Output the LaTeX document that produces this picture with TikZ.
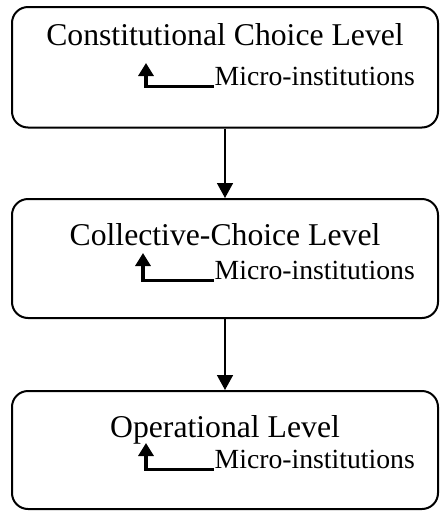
\documentclass[tikz,border=0pt]{standalone}
\usepackage{fontspec}
\setmainfont{Liberation Serif}
\usetikzlibrary{arrows.meta}
\begin{document}
\begin{tikzpicture}[x=1pt,y=-1pt,
  levelbox/.style={draw, line width=2pt, rounded corners=16pt, minimum width=426pt, inner sep=0pt},
  title/.style={font=\fontsize{31.7}{34}\selectfont, inner sep=0pt, anchor=base},
  micro/.style={font=\fontsize{27.7}{30}\selectfont, inner sep=0pt, anchor=base east},
  flow/.style={line width=1.6pt, -{Triangle[width=16pt,length=15pt]}},
  sub/.style={line width=3.3pt, -{Triangle[width=15pt,length=13pt]}}]
\useasboundingbox (0,0) rectangle (440,512);
\node[levelbox, minimum height=120.5pt] (box1) at (225,67.25) {};
\node[levelbox, minimum height=119pt] (box2) at (225,258.5) {};
\node[levelbox, minimum height=118pt] (box3) at (225,450) {};
\node[title] (t1) at (225,45) {Constitutional Choice Level};
\node[micro] (m1) at (415,85) {Micro-institutions};
\node[title] (t2) at (225,245) {Collective-Choice Level};
\node[micro] (m2) at (415,279) {Micro-institutions};
\node[title] (t3) at (225,437) {Operational Level};
\node[micro] (m3) at (415,468) {Micro-institutions};
\coordinate (a1) at (146,63);
\coordinate (a2) at (143,253);
\coordinate (a3) at (146,443);
\draw[flow] (box1.south) -- (box2.north);
\draw[flow] (box2.south) -- (box3.north);
\draw[sub] ([shift={(-1pt,-1.5pt)}]m1.base west) -| (a1);
\draw[sub] ([shift={(-1pt,-1.5pt)}]m2.base west) -| (a2);
\draw[sub] ([shift={(-1pt,-1.5pt)}]m3.base west) -| (a3);
\end{tikzpicture}
\end{document}
